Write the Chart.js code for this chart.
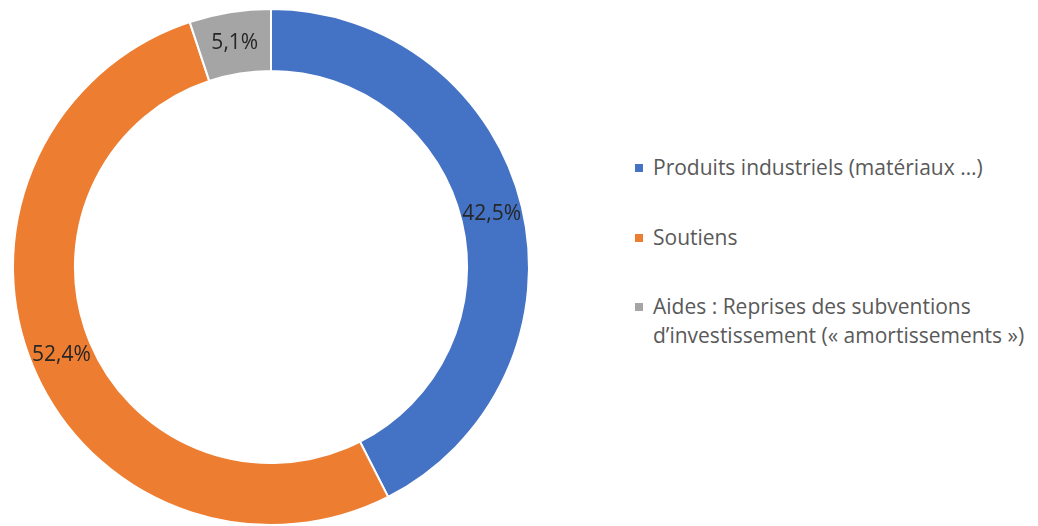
<!DOCTYPE html>
<html>
<head>
<meta charset="utf-8">
<script src="https://cdn.jsdelivr.net/npm/chart.js@4/dist/chart.umd.min.js"></script>
<style>
  body { margin: 0; background: #fff; width: 1038px; height: 526px; overflow: hidden; position: relative; }
  #wrap { position: absolute; left: 0; top: 0; width: 542px; height: 526px; }
  #legend { position: absolute; left: 635px; top: 0; font-family: "Open Sans", sans-serif; font-size: 21px; color: #595959; }
  .item { position: absolute; left: 0; white-space: nowrap; line-height: 29px; }
  .box { position: absolute; left: 0; width: 8px; height: 8px; }
  .txt { position: absolute; left: 18px; }
</style>
</head>
<body>
<div id="wrap"><canvas id="myChart"></canvas></div>
<div id="legend"></div>
<script>
var labels = ["Produits industriels (matériaux …)", "Soutiens", "Aides : Reprises des subventions\nd’investissement (« amortissements »)"];
var values = [42.5, 52.4, 5.1];
var colors = ["#4472C4", "#ED7D31", "#A5A5A5"];
var legendTops = [153, 223, 292];

// percentage labels drawn in the middle of each ring slice
var sliceLabels = {
  id: 'sliceLabels',
  afterDatasetsDraw: function(chart) {
    var c = chart.ctx;
    var meta = chart.getDatasetMeta(0);
    c.save();
    c.font = '21px "Open Sans", sans-serif';
    c.fillStyle = '#262626';
    c.textAlign = 'center';
    c.textBaseline = 'middle';
    meta.data.forEach(function(arc, i) {
      var p = arc.tooltipPosition();
      c.fillText(values[i].toFixed(1).replace('.', ',') + '%', p.x, p.y);
    });
    c.restore();
  }
};

var ctx = document.getElementById('myChart').getContext('2d');
var myChart = new Chart(ctx, {
  type: 'doughnut',
  data: {
    labels: labels,
    datasets: [{
      data: values,
      backgroundColor: colors,
      borderColor: "#ffffff",
      borderWidth: 2
    }]
  },
  options: {
    responsive: true,
    maintainAspectRatio: false,
    animation: false,
    cutout: '76%',
    layout: { padding: { top: 8, bottom: 0, left: 11, right: 11 } },
    plugins: {
      legend: { display: false },
      tooltip: { enabled: false }
    }
  },
  plugins: [sliceLabels]
});

var lg = document.getElementById('legend');
labels.forEach(function(l, i) {
  var item = document.createElement('div');
  item.className = 'item';
  item.style.top = legendTops[i] + 'px';
  var box = document.createElement('div');
  box.className = 'box';
  box.style.background = colors[i];
  box.style.top = '11px';
  var t = document.createElement('div');
  t.className = 'txt';
  t.innerHTML = l.replace('\n', '<br>');
  item.appendChild(box);
  item.appendChild(t);
  lg.appendChild(item);
});
</script>
</body>
</html>
